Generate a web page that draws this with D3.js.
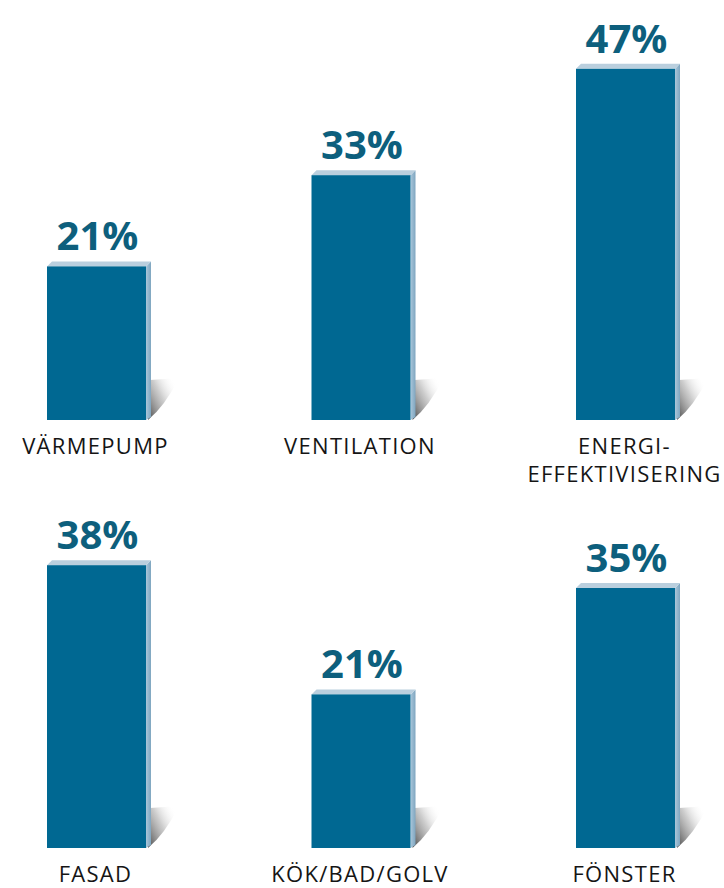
<!DOCTYPE html>
<html>
<head>
<meta charset="utf-8">
<script src="https://cdn.jsdelivr.net/npm/d3@7"></script>
<style>
  body { margin: 0; background: #fff; }
  svg { display: block; }
</style>
</head>
<body>
<script>
// data, two rows of three bars
var row1Labels = [["VÄRMEPUMP"], ["VENTILATION"], ["ENERGI-", "EFFEKTIVISERING"]];
var row1Values = [21, 33, 47];
var row2Labels = [["FASAD"], ["KÖK/BAD/GOLV"], ["FÖNSTER"]];
var row2Values = [38, 21, 35];

var w = 724, h = 888;
var barW = 99;   // front face width
var depth = 5;   // 3d offset
var pxPerPct = 7.6;

var svg = d3.select("body").append("svg")
  .attr("width", w)
  .attr("height", h);

// shadow gradient
var defs = svg.append("defs");
var g1 = defs.append("linearGradient")
  .attr("id", "shadow")
  .attr("x1", "0").attr("y1", "1")
  .attr("x2", "1").attr("y2", "0.3");
g1.append("stop").attr("offset", "0").attr("stop-color", "#3a3a3a").attr("stop-opacity", 0.95);
g1.append("stop").attr("offset", "0.55").attr("stop-color", "#9a9a9a").attr("stop-opacity", 0.5);
g1.append("stop").attr("offset", "1").attr("stop-color", "#ffffff").attr("stop-opacity", 0);

var g2 = defs.append("linearGradient")
  .attr("id", "side")
  .attr("x1", "0").attr("y1", "0")
  .attr("x2", "1").attr("y2", "0");
g2.append("stop").attr("offset", "0").attr("stop-color", "#a9c6da");
g2.append("stop").attr("offset", "1").attr("stop-color", "#7fa6c0");

var x = d3.scalePoint()
  .domain([0, 1, 2])
  .range([96.5, 625.5]);

function drawRow(values, labels, base) {
  var y = d3.scaleLinear()
    .domain([0, 50])
    .range([base + 6, base + 6 - 50 * pxPerPct]);

  var g = svg.append("g");
  var bars = g.selectAll("g.bar")
    .data(values)
    .enter().append("g")
    .attr("class", "bar");

  // shadow behind the bar, to the right
  bars.append("path")
    .attr("d", function(d, i) {
      var xr = x(i) + barW / 2 + depth;
      return "M" + (xr - 1) + "," + (base - 40) +
        " L" + (xr + 28) + "," + (base - 42) +
        " Q" + (xr + 14) + "," + (base - 14) + " " + (xr - 3) + "," + (base) + " Z";
    })
    .attr("fill", "url(#shadow)");

  // side face
  bars.append("path")
    .attr("d", function(d, i) {
      var x1 = x(i) + barW / 2, yt = y(d);
      return "M" + x1 + "," + yt + " L" + (x1 + depth) + "," + (yt - depth) +
        " L" + (x1 + depth) + "," + (base - 3) + " L" + x1 + "," + base + " Z";
    })
    .attr("fill", "url(#side)");

  // top face
  bars.append("path")
    .attr("d", function(d, i) {
      var x0 = x(i) - barW / 2, x1 = x(i) + barW / 2, yt = y(d);
      return "M" + x0 + "," + yt + " L" + x1 + "," + yt +
        " L" + (x1 + depth) + "," + (yt - depth) + " L" + (x0 + depth) + "," + (yt - depth) + " Z";
    })
    .attr("fill", "#bacfde");

  // front face
  bars.append("rect")
    .attr("x", function(d, i) { return x(i) - barW / 2; })
    .attr("y", function(d) { return y(d); })
    .attr("width", barW)
    .attr("height", function(d) { return base - y(d); })
    .attr("fill", "#006892");

  // value labels
  bars.append("text")
    .text(function(d) { return d + "%"; })
    .attr("x", function(d, i) { return x(i) + 1; })
    .attr("y", function(d) { return y(d) - 16; })
    .attr("text-anchor", "middle")
    .attr("font-family", "'Open Sans', sans-serif")
    .attr("font-weight", 700)
    .attr("font-size", "40px")
    .attr("fill", "#0d5f7d");

  // category labels
  bars.append("text")
    .attr("x", function(d, i) { return x(i) - 1; })
    .attr("y", base + 34)
    .attr("text-anchor", "middle")
    .attr("font-family", "'Open Sans', sans-serif")
    .attr("font-size", "22px")
    .attr("letter-spacing", "1.3px")
    .attr("fill", "#151515")
    .selectAll("tspan")
    .data(function(d, i) { return labels[i]; })
    .enter().append("tspan")
    .attr("x", function() { return this.parentNode.getAttribute("x"); })
    .attr("dy", function(t, j) { return j === 0 ? 0 : 28; })
    .text(function(t) { return t; });
}

drawRow(row1Values, row1Labels, 420);
drawRow(row2Values, row2Labels, 848);
</script>
</body>
</html>
